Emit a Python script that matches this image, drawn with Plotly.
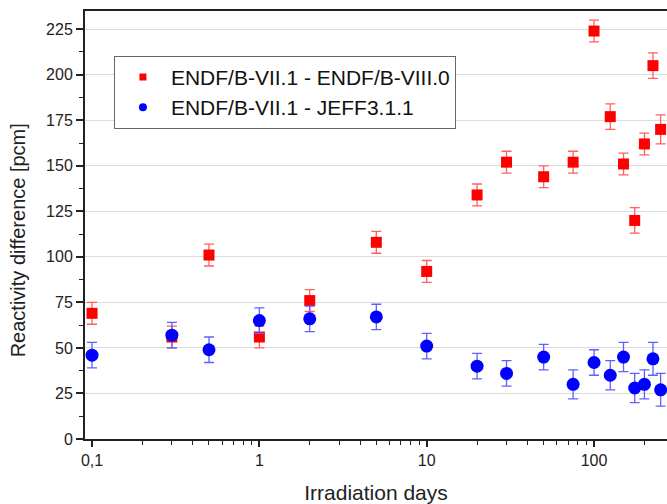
import plotly.graph_objects as go

days = [0.1, 0.3, 0.5, 1, 2, 5, 10, 20, 30, 50, 75, 100, 125, 150, 175, 200, 225, 250]
endf8 = [69, 56, 101, 56, 76, 108, 92, 134, 152, 144, 152, 224, 177, 151, 120, 162, 205, 170]
endf8_err = [6, 6, 6, 6, 6, 6, 6, 6, 6, 6, 6, 6, 7, 6, 7, 6, 7, 8]
jeff = [46, 57, 49, 65, 66, 67, 51, 40, 36, 45, 30, 42, 35, 45, 28, 30, 44, 27]
jeff_err = [7, 7, 7, 7, 7, 7, 7, 7, 7, 7, 8, 7, 8, 8, 8, 8, 9, 9]

name1 = "ENDF/B-VII.1 - ENDF/B-VIII.0"
name2 = "ENDF/B-VII.1 - JEFF3.1.1"
xtickvals = [0.1, 1, 10, 100]
xticktext = ["0,1", "1", "10", "100"]
ytickvals = [0, 25, 50, 75, 100, 125, 150, 175, 200, 225]

FONT = "Arial, 'Liberation Sans', sans-serif"

fig = go.Figure()
fig.add_trace(go.Scatter(
    x=days, y=endf8, mode="markers", name=name1, showlegend=False,
    marker=dict(symbol="square", size=11, color="#ff0000"),
    error_y=dict(type="data", array=endf8_err, color="#ff6060", thickness=1.3, width=5),
))
fig.add_trace(go.Scatter(
    x=days, y=jeff, mode="markers", name=name2, showlegend=False,
    marker=dict(symbol="circle", size=13, color="#0000ff"),
    error_y=dict(type="data", array=jeff_err, color="#6060ff", thickness=1.3, width=5),
))
# legend entries with the small legend symbols of the original
fig.add_trace(go.Scatter(x=[None], y=[None], mode="markers", name=name1,
                         marker=dict(symbol="square", size=7, color="#ff0000")))
fig.add_trace(go.Scatter(x=[None], y=[None], mode="markers", name=name2,
                         marker=dict(symbol="circle", size=8, color="#0000ff")))

fig.update_layout(
    width=667, height=504,
    margin=dict(l=85, r=0, t=11, b=65, autoexpand=False),
    paper_bgcolor="white", plot_bgcolor="white",
    font=dict(family=FONT, color="#222222", size=16),
    legend=dict(
        x=0.0497, y=0.8955, xanchor="left", yanchor="top",
        bordercolor="#666666", borderwidth=1, bgcolor="white",
        font=dict(size=21, color="#111111"),
        itemwidth=46, tracegroupgap=0,
    ),
    xaxis=dict(
        type="log", range=[-1.042, 2.436], automargin=False,
        tickvals=xtickvals, ticktext=xticktext,
        ticks="outside", ticklen=6, tickwidth=1.5, tickcolor="#222",
        minor=dict(ticks="outside", ticklen=4, tickwidth=1.3, tickcolor="#222", dtick="D1"),
        showgrid=False, zeroline=False,
        showline=True, linecolor="#222", linewidth=2, mirror=True,
        title=dict(text="Irradiation days", font=dict(size=21, color="#222"), standoff=28),
        tickfont=dict(size=16),
    ),
    yaxis=dict(
        range=[0, 235], tickvals=ytickvals, automargin=False,
        ticks="outside", ticklen=7, tickwidth=1.5, tickcolor="#222",
        minor=dict(ticks="outside", ticklen=4, tickwidth=1.3, tickcolor="#222", dtick=12.5, showgrid=False),
        showgrid=True, gridcolor="#dcdcdc", gridwidth=1,
        zeroline=False,
        showline=True, linecolor="#222", linewidth=2, mirror=False,
        tickfont=dict(size=16),
    ),
    annotations=[dict(
        text="Reactivity difference [pcm]", textangle=-90,
        xref="paper", yref="paper", x=-0.1145, y=0.465,
        xanchor="center", yanchor="middle", showarrow=False,
        font=dict(size=20, color="#222"),
    )],
)

fig.write_html("out.html")
